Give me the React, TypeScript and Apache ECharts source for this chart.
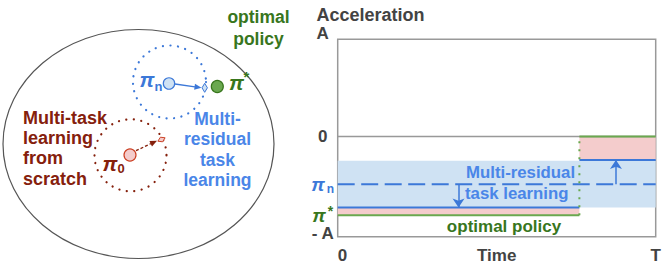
import React, { useEffect, useRef } from 'react';
import * as echarts from 'echarts';

// ---------- data ----------
const STEP_TIME = 0.76;
const optimalPolicy: any[] = [[0, -0.81], [STEP_TIME, -0.81], [STEP_TIME, '-'], [STEP_TIME, 0], [1, 0]];
const optimalJump: any[] = [[STEP_TIME, -0.81], [STEP_TIME, 0]];
const residualPolicy: any[] = [[0, -0.73], [STEP_TIME, -0.73], [STEP_TIME, '-'], [STEP_TIME, -0.24], [1, -0.24]];
const nominalPolicy: any[] = [[0, -0.49], [1, -0.49]];
const zeroLine: any[] = [[0, 0], [1, 0]];
const residualBand = [-0.73, -0.25];
const gapAreas = [
  [[0, -0.81], [STEP_TIME, -0.73]],
  [[STEP_TIME, -0.24], [1, 0]],
];
const arrows = [
  [[0.38, -0.49], [0.38, -0.73]],
  [[0.875, -0.49], [0.875, -0.24]],
];
const yTickValues = [1, 0, -0.49, -0.81, -1];
const yTickLabels = ['{top|A}', '{g|0}', '{pn|π}{pnSub|n}', '{ps|π}{psSup|*}', '{g|- A}'];
const xTickValues = [0, 0.5, 1];
const xTickLabels = ['0', 'Time', 'T'];

// ---------- styles ----------
const FONT = '"Liberation Sans", Arial, Helvetica, sans-serif';
const BLUE = '#3c78d8';
const TBLUE = '#4a86e8';
const LBLUE = '#cfe2f3';
const RED = '#85200c';
const PINK = '#f4cccc';
const GREEN = '#38761d';
const LGREEN = '#6aa84f';
const GRAY = '#434343';

const txt = (text: string, x: number, y: number, color: string, size = 17, align = 'left', extra: any = {}) => ({
  type: 'text',
  x,
  y,
  silent: true,
  z: 10,
  style: {
    text,
    fill: color,
    fontSize: size,
    fontWeight: 'bold',
    fontFamily: FONT,
    align,
    textAlign: align,
    verticalAlign: 'middle',
    textVerticalAlign: 'middle',
    ...extra,
  },
});

export default function App() {
  const ref = useRef<HTMLDivElement>(null);
  useEffect(() => {
    if (!ref.current) return;
    const chart = echarts.init(ref.current, null, { renderer: 'svg' });

    const graphic: any[] = [
      // left diagram
      { type: 'ellipse', shape: { cx: 138.5, cy: 144, rx: 135.5, ry: 114.5 }, style: { fill: 'none', stroke: '#555', lineWidth: 1.2 } },
      { type: 'circle', shape: { cx: 169.5, cy: 82, r: 36.5 }, style: { fill: 'none', stroke: BLUE, lineWidth: 2.2, lineDash: [0.1, 7.4], lineCap: 'round' } },
      { type: 'circle', shape: { cx: 130.5, cy: 155.3, r: 36 }, style: { fill: 'none', stroke: RED, lineWidth: 2.2, lineDash: [0.1, 7.4], lineCap: 'round' } },
      // blue arrow + diamond
      { type: 'line', shape: { x1: 175, y1: 84, x2: 195, y2: 86.8 }, style: { stroke: BLUE, lineWidth: 1.3 } },
      { type: 'polygon', shape: { points: [[201.5, 87.7], [194.16, 89.7], [194.98, 83.76]] }, style: { fill: BLUE } },
      { type: 'polygon', shape: { points: [[204.7, 83.3], [207.4, 87.8], [204.7, 92.3], [202, 87.8]] }, style: { fill: LBLUE, stroke: BLUE, lineWidth: 1 } },
      // red arrow + diamond
      { type: 'line', shape: { x1: 136, y1: 150.7, x2: 151, y2: 143.6 }, style: { stroke: RED, lineWidth: 1.3, lineDash: [3, 2] } },
      { type: 'polygon', shape: { points: [[157, 140.7], [151.99, 146.41], [149.41, 140.99]] }, style: { fill: RED } },
      { type: 'polygon', shape: { points: [[165.1, 137.8], [162.6, 141.8], [157.9, 141.2], [160.4, 137.2]] }, style: { fill: PINK, stroke: '#cc4125', lineWidth: 1 } },
      // nodes
      { type: 'circle', shape: { cx: 169, cy: 83.5, r: 5.7 }, style: { fill: LBLUE, stroke: BLUE, lineWidth: 1.2 } },
      { type: 'circle', shape: { cx: 130, cy: 155, r: 6 }, style: { fill: PINK, stroke: '#cc4125', lineWidth: 1.2 } },
      { type: 'circle', shape: { cx: 217.3, cy: 86.5, r: 6 }, style: { fill: LGREEN, stroke: GREEN, lineWidth: 1.2 } },
      // pi labels
      txt('π', 139.5, 79, BLUE, 21, 'left', { fontStyle: 'italic' }),
      txt('n', 154.5, 86.5, BLUE, 13),
      txt('π', 102.5, 163, RED, 21, 'left', { fontStyle: 'italic' }),
      txt('0', 117.5, 168.5, RED, 13),
      txt('π', 229, 82, GREEN, 21, 'left', { fontStyle: 'italic' }),
      txt('*', 243.5, 76, GREEN, 15),
      // left texts
      txt('optimal', 258.5, 16.5, GREEN, 17.5, 'center'),
      txt('policy', 258.5, 38.5, GREEN, 17.5, 'center'),
      txt('Multi-task', 23, 118, RED, 18),
      txt('learning', 23, 138, RED, 18),
      txt('from', 23, 158, RED, 18),
      txt('scratch', 23, 178.5, RED, 18),
      txt('Multi-', 217.5, 118.5, TBLUE, 17.5, 'center'),
      txt('residual', 217.5, 138.5, TBLUE, 17.5, 'center'),
      txt('task', 217.5, 159.5, TBLUE, 17.5, 'center'),
      txt('learning', 217.5, 180, TBLUE, 17.5, 'center'),
      // chart texts
      txt('Acceleration', 316.5, 15, GRAY, 18),
      txt('Multi-residual', 466, 172.7, TBLUE, 16.8),
      txt('task learning', 465, 193.3, TBLUE, 16.8),
      txt('optimal policy', 504, 226, GREEN, 17, 'center'),
    ];

    const option: any = {
      animation: false,
      backgroundColor: '#fff',
      grid: { left: 337.7, top: 39.3, right: 12.3, bottom: 28.3, show: true, borderColor: '#999', borderWidth: 1.5, backgroundColor: 'transparent', z: 0 },
      xAxis: {
        type: 'value', min: 0, max: 1,
        axisLine: { show: false }, axisTick: { show: false }, splitLine: { show: false },
        axisLabel: {
          customValues: xTickValues,
          formatter: (v: number) => xTickLabels[xTickValues.findIndex((t) => Math.abs(t - v) < 1e-6)] ?? '',
          color: GRAY, fontSize: 17, fontWeight: 'bold', fontFamily: FONT, margin: 10,
          alignMinLabel: 'left', alignMaxLabel: 'center',
        },
      },
      yAxis: {
        type: 'value', min: -1.03, max: 1,
        axisLine: { show: false }, axisTick: { show: false }, splitLine: { show: false },
        axisLabel: {
          customValues: yTickValues,
          formatter: (v: number) => yTickLabels[yTickValues.findIndex((t) => Math.abs(t - v) < 1e-6)] ?? '',
          align: 'center', margin: 15,
          rich: {
            g: { color: GRAY, fontSize: 17, fontWeight: 'bold', fontFamily: FONT },
            top: { color: GRAY, fontSize: 17, fontWeight: 'bold', fontFamily: FONT, padding: [0, 0, 12, 0] },
            pn: { color: BLUE, fontSize: 19, fontWeight: 'bold', fontStyle: 'italic', fontFamily: FONT },
            pnSub: { color: BLUE, fontSize: 12, fontWeight: 'bold', fontFamily: FONT, padding: [10, 0, 0, 2] },
            ps: { color: GREEN, fontSize: 19, fontWeight: 'bold', fontStyle: 'italic', fontFamily: FONT },
            psSup: { color: GREEN, fontSize: 14, fontWeight: 'bold', fontFamily: FONT, padding: [0, 0, 8, 2] },
          },
        },
      },
      series: [
        {
          name: 'band', type: 'line', data: [], z: 1, silent: true,
          markArea: {
            silent: true,
            itemStyle: { color: LBLUE },
            data: [[{ coord: [0, residualBand[1]] }, { coord: [1, residualBand[0]] }]],
          },
        },
        {
          name: 'gap', type: 'line', data: [], z: 2, silent: true,
          markArea: {
            silent: true,
            itemStyle: { color: PINK },
            data: gapAreas.map((a) => [{ coord: a[0] }, { coord: a[1] }]),
          },
        },
        { name: 'zero', type: 'line', data: zeroLine, z: 3, symbol: 'none', silent: true, lineStyle: { color: '#999', width: 1.5 } },
        { name: 'nominal', type: 'line', data: nominalPolicy, z: 4, symbol: 'none', silent: true, lineStyle: { color: BLUE, width: 2, type: [17, 6.5] } },
        {
          name: 'residual', type: 'line', data: residualPolicy, z: 5, symbol: 'none', silent: true, connectNulls: false,
          lineStyle: { color: BLUE, width: 2 },
          markLine: {
            silent: true, symbol: ['none', 'arrow'], symbolSize: [9, 9],
            label: { show: false },
            lineStyle: { color: BLUE, width: 1.5, type: 'solid' },
            data: arrows.map((a) => [{ coord: a[0] }, { coord: a[1] }]),
          },
        },
        { name: 'jump', type: 'line', data: optimalJump, z: 6, symbol: 'none', silent: true, lineStyle: { color: LGREEN, width: 2, type: [2, 6] } },
        { name: 'optimal', type: 'line', data: optimalPolicy, z: 7, symbol: 'none', silent: true, connectNulls: false, lineStyle: { color: LGREEN, width: 2 } },
      ],
      graphic,
    };
    chart.setOption(option);
    return () => chart.dispose();
  }, []);
  return <div ref={ref} style={{ position: 'fixed', left: 0, top: 0, width: 668, height: 265 }} />;
}
